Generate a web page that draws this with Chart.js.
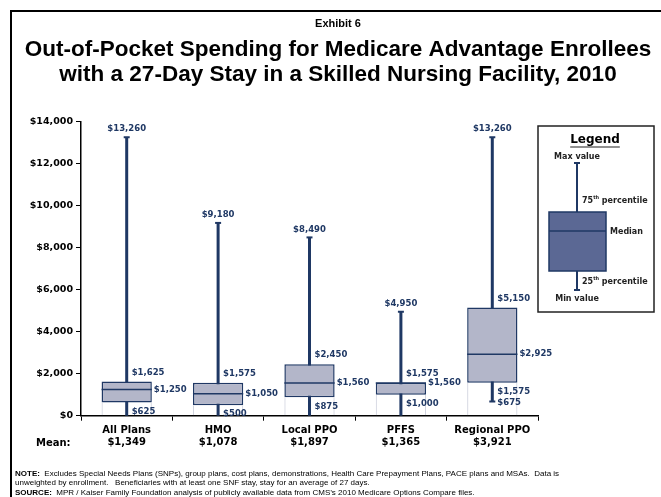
<!doctype html>
<html lang="en">
  <head>
    <meta charset="utf-8">
    <title>Exhibit 6</title>
    <style>
      * { margin: 0; padding: 0; }
      body { background: #fff; }
      .chartBox { width: 661px; height: 497px; }
    </style>
  </head>
  <body>
    <div class="chartBox">
      <canvas id="myChart" width="661" height="497"></canvas>
    </div>
    <script src="https://cdn.jsdelivr.net/npm/chart.js/dist/chart.umd.min.js"></script>
    <script>
    // data
    const plans = ['All Plans', 'HMO', 'Local PPO', 'PFFS', 'Regional PPO']
    const means = [1349, 1078, 1897, 1365, 3921]
    const maxVals = [13260, 9180, 8490, 4950, 13260]
    const q3Vals = [1625, 1575, 2450, 1575, 5150]
    const medians = [1250, 1050, 1560, 1560, 2925]
    const q1Vals = [625, 500, 875, 1000, 1575]
    const minVals = [0, 0, 0, 0, 675]
    const showMin = [false, false, false, false, true]
    const yTicks = [0, 2000, 4000, 6000, 8000, 10000, 12000, 14000]

    const navy = '#1f3864'
    const boxFill = '#b3b6c9'
    const labelFont = 'bold 8.5px "DejaVu Sans"'
    const money = v => '$' + v.toLocaleString('en-US')

    // whiskers, medians and value labels
    const boxPlot = {
      id: 'boxPlot',
      beforeDatasetsDraw(chart) {
        const { ctx, scales: { y } } = chart
        const bars = chart.getDatasetMeta(1).data
        ctx.save()
        ctx.strokeStyle = navy
        ctx.lineWidth = 3
        bars.forEach((bar, i) => {
          const top = y.getPixelForValue(maxVals[i])
          const bot = y.getPixelForValue(minVals[i])
          ctx.beginPath()
          ctx.moveTo(bar.x, top)
          ctx.lineTo(bar.x, bot)
          ctx.stroke()
          ctx.lineWidth = 2
          ctx.beginPath()
          ctx.moveTo(bar.x - 3, top)
          ctx.lineTo(bar.x + 3, top)
          if (minVals[i] > 0) {
            ctx.moveTo(bar.x - 3, bot)
            ctx.lineTo(bar.x + 3, bot)
          }
          ctx.stroke()
          ctx.lineWidth = 3
        })
        ctx.restore()
      },
      afterDatasetsDraw(chart) {
        const { ctx, scales: { y } } = chart
        const bars = chart.getDatasetMeta(1).data
        ctx.save()
        bars.forEach((bar, i) => {
          const half = bar.width / 2
          const m = y.getPixelForValue(medians[i])
          ctx.strokeStyle = navy
          ctx.lineWidth = 1.5
          ctx.beginPath()
          ctx.moveTo(bar.x - half, m)
          ctx.lineTo(bar.x + half, m)
          ctx.stroke()

          ctx.fillStyle = navy
          ctx.font = labelFont
          ctx.textBaseline = 'middle'
          ctx.textAlign = 'center'
          ctx.fillText(money(maxVals[i]), bar.x, y.getPixelForValue(maxVals[i]) - 8)
          ctx.textAlign = 'left'
          ctx.fillText(money(q3Vals[i]), bar.x + 5, y.getPixelForValue(q3Vals[i]) - 9)
          ctx.fillText(money(medians[i]), bar.x + half + 2, m)
          ctx.fillText(money(q1Vals[i]), bar.x + 5, y.getPixelForValue(q1Vals[i]) + 9)
          if (showMin[i]) {
            ctx.fillText(money(minVals[i]), bar.x + 5, y.getPixelForValue(minVals[i]) + 1)
          }
        })
        ctx.restore()
      }
    }

    // frame, titles, legend box and notes
    const decorations = {
      id: 'decorations',
      afterDraw(chart) {
        const { ctx } = chart
        ctx.save()
        ctx.strokeStyle = '#000'
        ctx.lineWidth = 2
        ctx.beginPath()
        ctx.moveTo(11, 500)
        ctx.lineTo(11, 11)
        ctx.lineTo(665, 11)
        ctx.stroke()

        ctx.fillStyle = '#000'
        ctx.textAlign = 'center'
        ctx.textBaseline = 'middle'
        ctx.font = 'bold 11px "Liberation Sans"'
        ctx.fillText('Exhibit 6', 338, 24)
        ctx.font = 'bold 22.5px "Liberation Sans"'
        ctx.fillText('Out-of-Pocket Spending for Medicare Advantage Enrollees', 338, 50)
        ctx.fillText('with a 27-Day Stay in a Skilled Nursing Facility, 2010', 338, 75)

        // Mean: label
        ctx.font = 'bold 10px "DejaVu Sans"'
        ctx.textAlign = 'left'
        ctx.fillText('Mean:', 36, 443)

        // legend
        ctx.fillStyle = '#fff'
        ctx.fillRect(538, 126, 116, 186)
        ctx.strokeStyle = '#222'
        ctx.lineWidth = 1.5
        ctx.strokeRect(538, 126, 116, 186)
        ctx.fillStyle = '#000'
        ctx.textAlign = 'center'
        ctx.font = 'bold 12px "DejaVu Sans"'
        ctx.fillText('Legend', 595, 140)
        const lw = ctx.measureText('Legend').width
        ctx.lineWidth = 1.2
        ctx.beginPath()
        ctx.moveTo(595 - lw / 2, 147)
        ctx.lineTo(595 + lw / 2, 147)
        ctx.stroke()

        ctx.strokeStyle = navy
        ctx.lineWidth = 2
        ctx.beginPath()
        ctx.moveTo(577, 163)
        ctx.lineTo(577, 290)
        ctx.moveTo(574, 163)
        ctx.lineTo(580, 163)
        ctx.moveTo(574, 290)
        ctx.lineTo(580, 290)
        ctx.stroke()
        ctx.fillStyle = '#5b6894'
        ctx.fillRect(549, 212, 57, 59)
        ctx.lineWidth = 1.5
        ctx.strokeRect(549, 212, 57, 59)
        ctx.beginPath()
        ctx.moveTo(549, 231)
        ctx.lineTo(606, 231)
        ctx.stroke()

        ctx.fillStyle = '#222'
        ctx.font = 'bold 8px "DejaVu Sans"'
        ctx.fillText('Max value', 577, 157)
        ctx.fillText('Min value', 577, 299)
        ctx.textAlign = 'left'
        ctx.fillText('Median', 610, 232)
        const pct = (num, yy) => {
          ctx.font = 'bold 8px "DejaVu Sans"'
          ctx.fillText(num, 582, yy)
          const w = ctx.measureText(num).width
          ctx.font = 'bold 5px "DejaVu Sans"'
          ctx.fillText('th', 582 + w, yy - 3)
          const w2 = ctx.measureText('th').width
          ctx.font = 'bold 8px "DejaVu Sans"'
          ctx.fillText(' percentile', 582 + w + w2, yy)
        }
        pct('75', 201)
        pct('25', 282)

        // notes
        ctx.fillStyle = '#000'
        ctx.textAlign = 'left'
        const note = (bold, rest, yy) => {
          let x = 15
          if (bold) {
            ctx.font = 'bold 8px "Liberation Sans"'
            ctx.fillText(bold, x, yy)
            x += ctx.measureText(bold).width
          }
          ctx.font = '8px "Liberation Sans"'
          ctx.fillText(rest, x, yy)
        }
        note('NOTE:', '  Excludes Special Needs Plans (SNPs), group plans, cost plans, demonstrations, Health Care Prepayment Plans, PACE plans and MSAs.  Data is', 474)
        note('', 'unweighted by enrollment.   Beneficiaries with at least one SNF stay, stay for an average of 27 days.', 483)
        note('SOURCE:', '  MPR / Kaiser Family Foundation analysis of publicly available data from CMS\u2019s 2010 Medicare Options Compare files.', 493)
        ctx.restore()
      }
    }

    const data = {
      labels: plans.map((p, i) => [p, money(means[i])]),
      datasets: [
        {
          // base from zero to the 25th percentile, only thin side edges show
          data: q1Vals.map(v => [0, v]),
          backgroundColor: 'rgba(0,0,0,0)',
          borderColor: '#d0d3de',
          borderWidth: { left: 1, right: 1, top: 0, bottom: 0 },
          borderSkipped: false,
          grouped: false
        },
        {
          data: q1Vals.map((v, i) => [v, q3Vals[i]]),
          backgroundColor: boxFill,
          borderColor: navy,
          borderWidth: 1.5,
          borderSkipped: false,
          grouped: false
        }
      ]
    }

    const config = {
      type: 'bar',
      data,
      options: {
        responsive: false,
        animation: false,
        layout: { padding: { top: 121.7, right: 123, left: 0, bottom: 0 } },
        categoryPercentage: 1,
        barPercentage: 0.55,
        plugins: {
          legend: { display: false },
          tooltip: { enabled: false }
        },
        scales: {
          y: {
            min: 0,
            max: 14000,
            afterFit: scale => { scale.width = 81 },
            afterBuildTicks: scale => { scale.ticks = yTicks.map(v => ({ value: v })) },
            ticks: {
              callback: v => money(v),
              color: '#000',
              padding: 3,
              font: { family: 'DejaVu Sans', weight: 'bold', size: 9.5 }
            },
            grid: { drawOnChartArea: false, tickLength: 5, color: '#000', tickWidth: 1 },
            border: { color: '#000', width: 1.5 }
          },
          x: {
            afterFit: scale => { scale.height = 81.3 },
            ticks: {
              color: '#000',
              padding: 4,
              font: { family: 'DejaVu Sans', weight: 'bold', size: 10, lineHeight: 1.2 }
            },
            grid: { offset: true, drawOnChartArea: false, tickLength: 5, color: '#000', tickWidth: 1 },
            border: { color: '#000', width: 1.5 }
          }
        }
      },
      plugins: [boxPlot, decorations]
    }

    const myChart = new Chart(document.getElementById('myChart'), config)
    </script>
  </body>
</html>
